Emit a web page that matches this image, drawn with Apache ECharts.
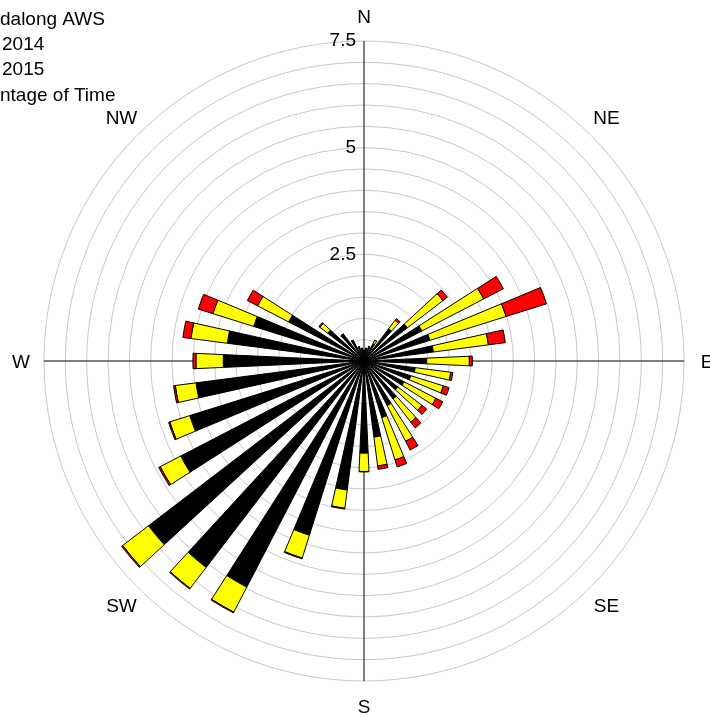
<!DOCTYPE html>
<html>
<head>
<meta charset="utf-8">
<script src="https://cdn.jsdelivr.net/npm/echarts@6/dist/echarts.min.js"></script>
<style>
  html, body { margin: 0; padding: 0; background: #fff; }
  #chart { width: 710px; height: 717px; }
</style>
</head>
<body>
<div id="chart"></div>
<script>
// Wind direction sectors (degrees from north, clockwise)
const directions = ['0', '10', '20', '30', '40', '50', '60', '70', '80', '90', '100', '110',
  '120', '130', '140', '150', '160', '170', '180', '190', '200', '210', '220', '230',
  '240', '250', '260', '270', '280', '290', '300', '310', '320', '330', '340', '350'];

// Percentage of time in each speed class, per direction
const lowClass = [0.25, 0.30, 0.33, 0.45, 0.95, 1.28, 1.53, 1.62, 1.64, 1.47, 1.21, 1.15,
  1.06, 1.00, 1.12, 1.18, 1.39, 1.80, 2.16, 3.05, 4.28, 5.97, 6.09, 6.36,
  4.84, 4.28, 3.97, 3.30, 3.23, 2.71, 1.99, 1.07, 0.80, 0.55, 0.35, 0.30];
const midClass = [0, 0, 0.03, 0.10, 0.25, 1.05, 1.63, 1.87, 1.30, 1.00, 0.84, 0.80,
  0.84, 0.71, 0.68, 0.94, 1.04, 0.68, 0.43, 0.43, 0.56, 0.66, 0.62, 0.76,
  0.54, 0.49, 0.49, 0.64, 0.86, 1.00, 0.82, 0.23, 0, 0, 0, 0];
const highClass = [0, 0, 0, 0, 0.05, 0.13, 0.52, 0.99, 0.40, 0.07, 0.05, 0.14,
  0.18, 0.14, 0.17, 0.23, 0.17, 0.08, 0.01, 0.02, 0.02, 0.02, 0.02, 0.03,
  0.04, 0.03, 0.04, 0.07, 0.19, 0.36, 0.27, 0.03, 0, 0, 0, 0];

// Compass points and radial tick labels
const compassPoints = ['N', 'NE', 'E', 'SE', 'S', 'SW', 'W', 'NW'];
const radiusTickLabels = [2.5, 5, 7.5];

// Header lines
const headerLines = ['dalong AWS', '2014', '2015', 'ntage of Time'];
const headerIndent = [0, 2, 2, 0];

const FONT = '"Liberation Sans", Arial, sans-serif';
const CX = 364, CY = 361, R = 320;
const LABEL_R = 343;

const chart = echarts.init(document.getElementById('chart'), null, { renderer: 'canvas' });

// Compass point labels placed around the outer ring
const compassText = compassPoints.map(function (name, i) {
  const a = i * 45 * Math.PI / 180;
  return {
    type: 'text',
    x: CX + LABEL_R * Math.sin(a),
    y: CY + 2 - (LABEL_R + 2) * Math.cos(a),
    style: { text: name, font: '19px ' + FONT, fill: '#000', align: 'center', verticalAlign: 'middle' }
  };
});

const headerText = headerLines.map(function (t, i) {
  return {
    type: 'text',
    x: headerIndent[i],
    y: 19.5 + i * 25.3,
    style: { text: t, font: '19px ' + FONT, fill: '#000', align: 'left', verticalAlign: 'middle' }
  };
});

const option = {
  animation: false,
  backgroundColor: '#ffffff',
  textStyle: { fontFamily: FONT },
  polar: [
    { center: [CX, CY], radius: R },
    { center: [CX, CY], radius: R }
  ],
  angleAxis: [
    {
      // N-S and E-W cross lines
      polarIndex: 0,
      type: 'value',
      min: 0,
      max: 360,
      interval: 90,
      startAngle: 90,
      clockwise: true,
      axisLine: { show: false },
      axisTick: { show: false },
      axisLabel: { show: false },
      splitLine: { show: true, lineStyle: { color: '#000000', width: 1 } },
      z: 1
    },
    {
      polarIndex: 1,
      type: 'category',
      data: directions,
      startAngle: 95,
      clockwise: true,
      axisLine: { show: false },
      axisTick: { show: false },
      axisLabel: { show: false },
      splitLine: { show: false }
    }
  ],
  radiusAxis: [
    {
      polarIndex: 0,
      type: 'value',
      min: 0,
      max: 7.5,
      interval: 0.5,
      axisLine: { show: false },
      axisTick: { show: false },
      axisLabel: {
        margin: 8,
        fontSize: 19,
        color: '#000',
        fontFamily: FONT,
        formatter: function (v) { return radiusTickLabels.indexOf(v) >= 0 ? String(v) : ''; }
      },
      splitLine: { show: true, lineStyle: { color: '#c8c8c8', width: 1 } },
      z: 0
    },
    {
      polarIndex: 1,
      type: 'value',
      min: 0,
      max: 7.5,
      show: false
    }
  ],
  series: [
    {
      name: 'low', type: 'bar', coordinateSystem: 'polar', polarIndex: 1, stack: 'wind',
      barWidth: '52%', data: lowClass,
      itemStyle: { color: '#000000', borderColor: '#000000', borderWidth: 1 }
    },
    {
      name: 'mid', type: 'bar', coordinateSystem: 'polar', polarIndex: 1, stack: 'wind',
      barWidth: '52%', data: midClass,
      itemStyle: { color: '#ffff00', borderColor: '#000000', borderWidth: 1 }
    },
    {
      name: 'high', type: 'bar', coordinateSystem: 'polar', polarIndex: 1, stack: 'wind',
      barWidth: '52%', data: highClass,
      itemStyle: { color: '#ff0000', borderColor: '#000000', borderWidth: 1 }
    }
  ],
  graphic: headerText.concat(compassText)
};

chart.setOption(option);
</script>
</body>
</html>
